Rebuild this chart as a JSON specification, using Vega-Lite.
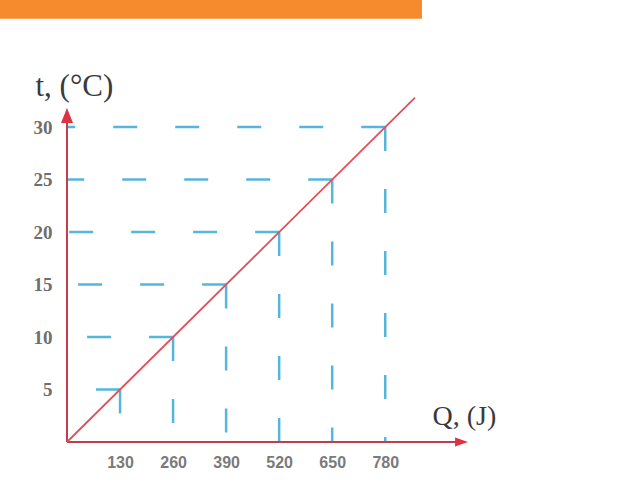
{
  "$schema": "https://vega.github.io/schema/vega-lite/v6.json",
  "width": 408,
  "height": 357,
  "autosize": "none",
  "padding": {"left": 67, "top": 85, "right": 150, "bottom": 52},
  "background": "white",
  "config": {
    "view": {"stroke": null},
    "axisX": {
      "domain": false, "ticks": false, "tickSize": 0, "grid": false,
      "labelPadding": 12, "labelFont": "Liberation Sans", "labelFontSize": 16,
      "labelFontWeight": "bold", "labelColor": "#7a7a7a",
      "titleX": 365, "titleY": -18, "titleAlign": "left",
      "titleBaseline": "alphabetic", "titleFont": "Liberation Serif", "titleFontSize": 28,
      "titleFontWeight": "normal", "titleColor": "#3a3a3a"
    },
    "axisY": {
      "domain": false, "ticks": false, "tickSize": 0, "grid": false,
      "labelPadding": 15, "labelFont": "Liberation Serif", "labelFontSize": 19,
      "labelFontWeight": "bold", "labelColor": "#6e6e6e",
      "titleAngle": 0, "titleX": -32, "titleY": 10, "titleAlign": "left",
      "titleBaseline": "alphabetic", "titleFont": "Liberation Serif", "titleFontSize": 31,
      "titleFontWeight": "normal", "titleColor": "#3a3a3a"
    }
  },
  "data": {"values": [{}]},
  "datasets": {
    "hlines": [
      {"Q": 130, "t": 5}, {"Q": 260, "t": 10}, {"Q": 390, "t": 15},
      {"Q": 520, "t": 20}, {"Q": 650, "t": 25}, {"Q": 780, "t": 30}
    ],
    "redline": [
      {"Q": 0, "t": 0}, {"Q": 853, "t": 32.8}
    ]
  },
  "layer": [
    {
      "data": {"name": "hlines"},
      "mark": {"type": "rule", "color": "#56b5da", "strokeWidth": 2.5, "strokeDash": [24, 38]},
      "encoding": {
        "x": {
          "field": "Q", "type": "quantitative",
          "scale": {"domain": [0, 1000], "nice": false, "zero": false},
          "axis": {"values": [130, 260, 390, 520, 650, 780], "title": "Q, (J)"}
        },
        "x2": {"datum": 0},
        "y": {
          "field": "t", "type": "quantitative",
          "scale": {"domain": [0, 34], "nice": false, "zero": false},
          "axis": {"values": [5, 10, 15, 20, 25, 30], "title": "t, (°C)"}
        }
      }
    },
    {
      "mark": {"type": "rect", "color": "#f68b2d", "clip": false},
      "encoding": {
        "x": {"datum": -170, "type": "quantitative"},
        "x2": {"datum": 870},
        "y": {"datum": 40.3, "type": "quantitative"},
        "y2": {"datum": 43}
      }
    },
    {
      "data": {"name": "hlines"},
      "mark": {"type": "rule", "color": "#56b5da", "strokeWidth": 2.5, "strokeDash": [24, 38]},
      "encoding": {
        "x": {"field": "Q", "type": "quantitative"},
        "y": {"field": "t", "type": "quantitative"},
        "y2": {"datum": 0}
      }
    },
    {
      "mark": {"type": "rule", "color": "#bf3f4d", "strokeWidth": 2},
      "encoding": {
        "x": {"datum": 0, "type": "quantitative"},
        "x2": {"datum": 965},
        "y": {"datum": 0, "type": "quantitative"}
      }
    },
    {
      "mark": {"type": "rule", "color": "#bf3f4d", "strokeWidth": 2},
      "encoding": {
        "x": {"datum": 0, "type": "quantitative"},
        "y": {"datum": 0, "type": "quantitative"},
        "y2": {"datum": 31}
      }
    },
    {
      "mark": {"type": "point", "shape": "M0,-1L-0.8,1L0.8,1Z", "size": 225, "filled": true, "color": "#dd3340", "opacity": 1},
      "encoding": {
        "x": {"datum": 0, "type": "quantitative"},
        "y": {"datum": 31.1, "type": "quantitative"}
      }
    },
    {
      "mark": {"type": "point", "shape": "M1,0L-1,-0.7L-1,0.7Z", "size": 169, "filled": true, "color": "#dd3340", "opacity": 1},
      "encoding": {
        "x": {"datum": 967, "type": "quantitative"},
        "y": {"datum": 0, "type": "quantitative"}
      }
    },
    {
      "data": {"name": "redline"},
      "mark": {"type": "line", "color": "#e0505a", "strokeWidth": 1.8},
      "encoding": {
        "x": {"field": "Q", "type": "quantitative"},
        "y": {"field": "t", "type": "quantitative"}
      }
    }
  ]
}
